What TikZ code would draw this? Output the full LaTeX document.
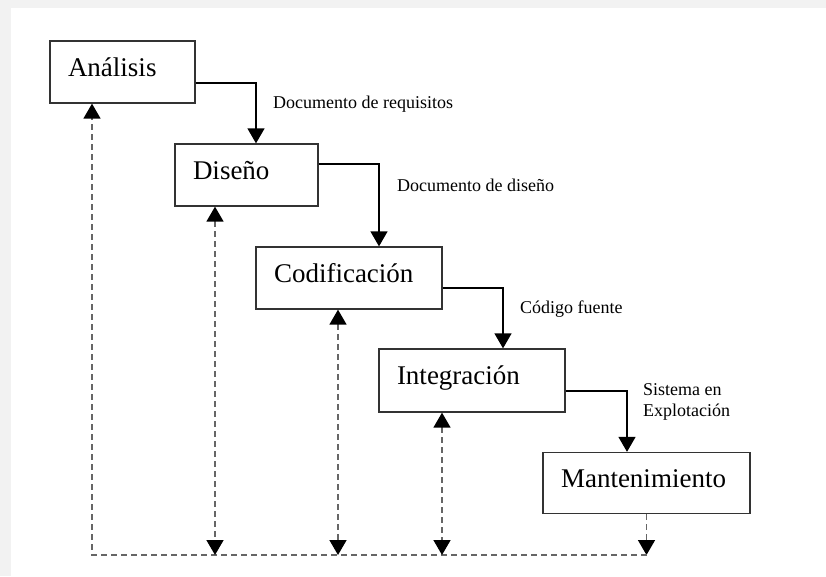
\documentclass[tikz,border=0pt]{standalone}
\usepackage{fontspec}
\setmainfont{Liberation Serif}
\usetikzlibrary{arrows.meta, positioning, calc}

\begin{document}
\begin{tikzpicture}[
    x=1pt, y=-1pt,
    punta/.tip={Triangle[length=15pt, width=17pt, color=black]},
    fase/.style={rectangle, draw=black!80, line width=1.3pt, inner xsep=18pt, inner ysep=0pt, align=left, font=\fontsize{27}{30}\selectfont, text height=18pt, text depth=10pt, minimum height=62pt},
    etiqueta/.style={anchor=base west, inner sep=0pt, font=\fontsize{18}{21}\selectfont},
    flecha/.style={line width=1.3pt, -punta},
    retorno/.style={draw=black!60, line width=1.5pt, dash pattern=on 6pt off 4pt}
]

% Fondo
\useasboundingbox (0,0) rectangle (826,576);
\fill[gray!10] (0,0) rectangle (826,576);
\fill[white] (11,8) rectangle (826,576);

% Fases

\node[fase, text width=109pt] (analisis) at (122.5,72) {Análisis};
\node[fase, text width=107pt] (diseno) at (246.5,175) {Diseño};
\node[fase, text width=150pt] (codificacion) at (349,278) {Codificación};
\node[fase, text width=150pt, minimum height=63pt] (integracion) at (472,380.5) {Integración};
\node[fase, text width=171pt, minimum height=61pt] (mantenimiento) at (646.5,483) {Mantenimiento};

% Flujo hacia abajo

\draw[flecha] ([yshift=-11pt]analisis.east) -| ([xshift=9.5pt]diseno.north);
\node[etiqueta] (requisitos) at (273,108) {Documento de requisitos};

\draw[flecha] ([yshift=11pt]diseno.east) -| ([xshift=30pt]codificacion.north);
\node[etiqueta] (doc_diseno) at (397,191) {Documento de diseño};

\draw[flecha] ([yshift=-10pt]codificacion.east) -| ([xshift=31pt]integracion.north);
\node[etiqueta] (fuente) at (520,313) {Código fuente};

\draw[flecha] ([yshift=-10.5pt]integracion.east) -| ([xshift=-19.5pt]mantenimiento.north);
\node[etiqueta, anchor=north west, align=left] (explotacion) at (643,383) {Sistema en\\Explotación};

% Retorno

\coordinate (fondo) at (646.5,555);
\coordinate (r1) at (215,555);
\coordinate (r2) at (338,555);
\coordinate (r3) at (442,555);

\draw[retorno, -punta] (mantenimiento.south) -- (fondo);
\draw[retorno, -punta] (fondo) -| ([xshift=-30.5pt]analisis.south);
\draw[retorno, punta-punta] (diseno.south -| r1) -- (r1);
\draw[retorno, punta-punta] (codificacion.south -| r2) -- (r2);
\draw[retorno, punta-punta] (integracion.south -| r3) -- (r3);

\end{tikzpicture}
\end{document}
